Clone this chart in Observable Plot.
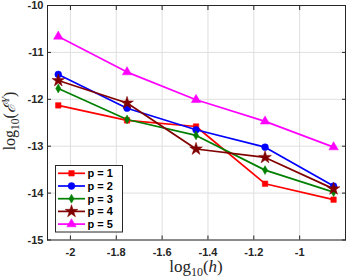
<!DOCTYPE html>
<html><head><meta charset="utf-8">
<script src="https://cdn.jsdelivr.net/npm/d3@7"></script>
<script src="https://cdn.jsdelivr.net/npm/@observablehq/plot@0.6"></script>
<style>body{margin:0;background:#fff}</style>
</head><body><div id="chart"></div>
<script>
const xVals = [-2.053, -1.753, -1.452, -1.151, -0.852];
const p1 = [-12.13, -12.45, -12.58, -13.80, -14.14];
const p2 = [-11.47, -12.19, -12.65, -13.02, -13.85];
const p3 = [-11.77, -12.43, -12.77, -13.51, -13.98];
const p4 = [-11.60, -12.08, -13.06, -13.24, -13.91];
const p5 = [-10.66, -11.42, -12.01, -12.47, -13.02];
const seriesNames = ["p = 1", "p = 2", "p = 3", "p = 4", "p = 5"];
const seriesColors = ["#ff0000", "#0000ff", "#008000", "#800000", "#ff00ff"];
const seriesSymbols = ["square", "circle", "diamond", "star", "triangle"];
const symbolR = [3.1, 3.4, 2.7, 4.0, 3.5];
const xTicks = [-2, -1.8, -1.6, -1.4, -1.2, -1];
const yTicks = [-15, -14, -13, -12, -11, -10];

const allSeries = [p1, p2, p3, p4, p5];
const data = [];
allSeries.forEach((s, i) => xVals.forEach((x, j) => data.push({x, y: s[j], p: seriesNames[i]})));

const ink = "#262626";
const tickFont = {fontWeight: "bold", fontSize: 11, fill: ink};

const marks = [
  Plot.gridX(xTicks, {stroke: "#dfdfdf", strokeOpacity: 1}),
  Plot.gridY(yTicks, {stroke: "#dfdfdf", strokeOpacity: 1}),
  Plot.axisX(xTicks, {anchor: "bottom", tickSize: 0, tickPadding: 8, label: null, tickFormat: d => String(d), ...tickFont}),
  Plot.axisX(xTicks, {anchor: "bottom", tickSize: -4, text: null, label: null, stroke: ink}),
  Plot.axisX(xTicks, {anchor: "top", tickSize: -4, text: null, label: null, stroke: ink}),
  Plot.axisY(yTicks, {anchor: "left", tickSize: 0, tickPadding: 4, label: null, tickFormat: d => String(d), ...tickFont}),
  Plot.axisY(yTicks, {anchor: "left", tickSize: -4, text: null, label: null, stroke: ink}),
  Plot.axisY(yTicks, {anchor: "right", tickSize: -4, text: null, label: null, stroke: ink}),
  Plot.frame({stroke: ink, strokeWidth: 1})
];
seriesNames.forEach((name, i) => {
  const d = data.filter(r => r.p === name);
  marks.push(Plot.line(d, {x: "x", y: "y", stroke: seriesColors[i], strokeWidth: 1.7}));
});
seriesNames.forEach((name, i) => {
  const d = data.filter(r => r.p === name);
  marks.push(Plot.dot(d, {x: "x", y: "y", fill: seriesColors[i], stroke: seriesColors[i], strokeWidth: 0.5, symbol: seriesSymbols[i], r: symbolR[i]}));
});

const plot = Plot.plot({
  width: 346, height: 278,
  marginLeft: 47, marginRight: 1, marginTop: 5, marginBottom: 38.5,
  x: {domain: [-2.1, -0.8]},
  y: {domain: [-15, -10]},
  style: {fontFamily: "'Liberation Sans', Arial, sans-serif", background: "white", overflow: "visible"},
  marks
});
document.getElementById("chart").appendChild(plot);

const svg = d3.select(plot);
const serif = "'Liberation Serif', 'DejaVu Serif', serif";
// x label
const xl = svg.append("text").attr("x", 196).attr("y", 271.5).attr("text-anchor", "middle")
  .attr("font-family", serif).attr("font-size", 17).attr("fill", ink);
xl.append("tspan").text("log");
xl.append("tspan").attr("font-size", 12).attr("dy", 4).text("10");
xl.append("tspan").attr("dy", -4).text("(");
xl.append("tspan").attr("font-style", "italic").text("h");
xl.append("tspan").text(")");
// y label
const yl = svg.append("text").attr("transform", "translate(14.5,121) rotate(-90)").attr("text-anchor", "middle")
  .attr("font-family", serif).attr("font-size", 16).attr("fill", ink);
yl.append("tspan").text("log");
yl.append("tspan").attr("font-size", 11.5).attr("dy", 4).text("10");
yl.append("tspan").attr("dy", -4).text("(");
yl.append("tspan").attr("font-family", "'DejaVu Serif', serif").attr("font-style", "italic").text("\u2130");
yl.append("tspan").attr("font-size", 11).attr("font-style", "italic").attr("dy", -6).text("Y");
yl.append("tspan").attr("dy", 6).text(")");

// legend
const lg = svg.append("g");
lg.append("rect").attr("x", 55.5).attr("y", 165.5).attr("width", 67).attr("height", 66.5)
  .attr("fill", "white").attr("stroke", ink).attr("stroke-width", 1);
const symMap = {square: d3.symbolSquare, circle: d3.symbolCircle, diamond: d3.symbolDiamond, star: d3.symbolStar, triangle: d3.symbolTriangle};
seriesNames.forEach((name, i) => {
  const y = 173.3 + i * 12.7;
  lg.append("line").attr("x1", 58).attr("x2", 85).attr("y1", y).attr("y2", y)
    .attr("stroke", seriesColors[i]).attr("stroke-width", 1.7);
  lg.append("path").attr("transform", `translate(71.5,${y})`)
    .attr("d", d3.symbol(symMap[seriesSymbols[i]], Math.PI * symbolR[i] * symbolR[i])())
    .attr("fill", seriesColors[i]).attr("stroke", seriesColors[i]).attr("stroke-width", 0.5);
  lg.append("text").attr("x", 87.5).attr("y", y).attr("dy", "0.36em").attr("text-anchor", "start")
    .attr("font-weight", "bold").attr("font-size", 11).attr("fill", "#000")
    .attr("font-family", "'Liberation Sans', Arial, sans-serif").text(name);
});
</script>
</body></html>
